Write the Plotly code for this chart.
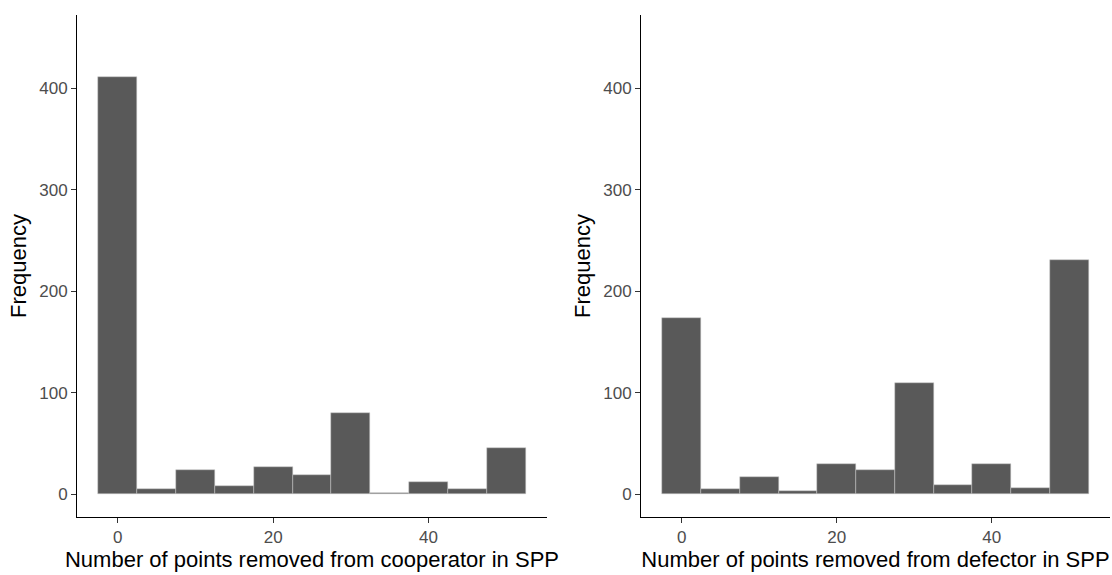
import plotly.graph_objects as go

# Histogram bins (width 5) and their counts for the two SPP measures
bin_centers = [0, 5, 10, 15, 20, 25, 30, 35, 40, 45, 50]
bin_width = 5
cooperator_counts = [411, 5, 24, 8, 27, 19, 80, 1, 12, 5, 46]
defector_counts = [174, 5, 17, 3, 30, 24, 110, 9, 30, 6, 231]

x_ticks = [0, 20, 40]
y_ticks = [0, 100, 200, 300, 400]

x_titles = [
    "Number of points removed from cooperator in SPP",
    "Number of points removed from defector in SPP",
]

W, H = 1112, 575
FONT = "Liberation Sans, Arial, sans-serif"
BAR_FILL = "#595959"
BAR_EDGE = "#c8c8c8"

fig = go.Figure()

for i, counts in enumerate([cooperator_counts, defector_counts]):
    xa = "x" if i == 0 else "x2"
    ya = "y" if i == 0 else "y2"
    fig.add_trace(go.Bar(
        x=bin_centers, y=counts, width=bin_width,
        marker=dict(color=BAR_FILL, line=dict(color=BAR_EDGE, width=0.5)),
        xaxis=xa, yaxis=ya, showlegend=False,
    ))

# Plot-area placement in pixels (left, right, top, bottom)
panels = [(77, 547, 15, 517), (641, 1110, 15, 517)]

axis_common = dict(
    showgrid=False, zeroline=False, showline=True, linecolor="black",
    linewidth=1, ticks="outside", ticklen=5, tickwidth=1, tickcolor="#333333",
    tickfont=dict(family=FONT, size=17, color="#4d4d4d"),
)

layout = dict(
    width=W, height=H,
    margin=dict(l=0, r=0, t=0, b=0),
    paper_bgcolor="white", plot_bgcolor="white",
    bargap=0, font=dict(family=FONT),
)

for i, (l, r, t, b) in enumerate(panels):
    sx = "" if i == 0 else "2"
    layout["xaxis" + sx] = dict(
        axis_common,
        domain=[l / W, r / W], anchor="y" + sx,
        range=[-5.25, 55.25], tickvals=x_ticks,
        title=dict(text=x_titles[i], font=dict(family=FONT, size=22, color="black"),
                   standoff=4),
    )
    layout["yaxis" + sx] = dict(
        axis_common,
        domain=[1 - b / H, 1 - t / H], anchor="x" + sx,
        range=[-22.5, 472.5], tickvals=y_ticks,
        title=dict(text="Frequency", font=dict(family=FONT, size=22, color="black"),
                   standoff=6),
    )

fig.update_layout(**layout)
fig.write_html("out.html")
